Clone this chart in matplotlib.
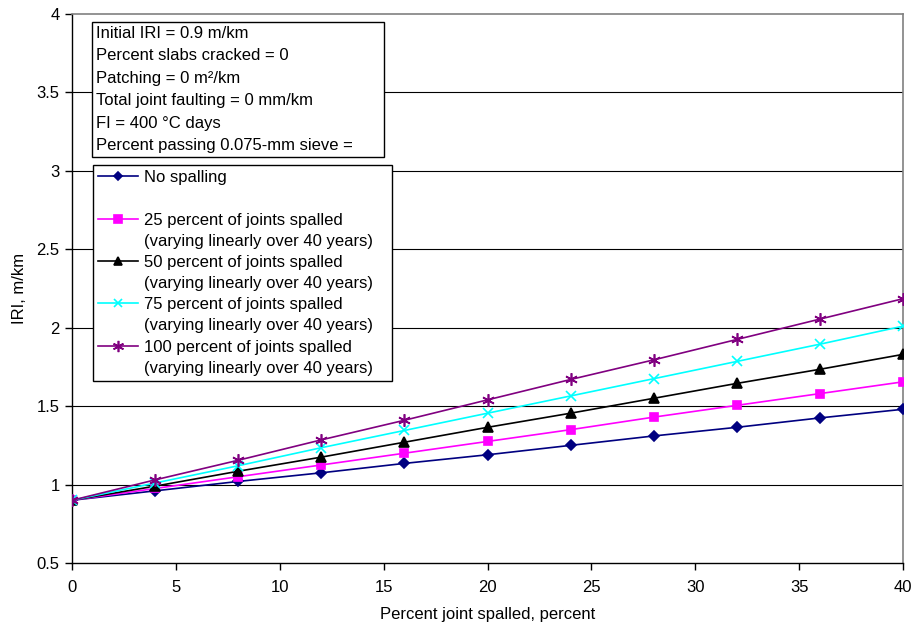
import matplotlib
matplotlib.use("Agg")
import matplotlib.pyplot as plt
from matplotlib.lines import Line2D

plt.rcParams["font.family"] = ["Liberation Sans", "DejaVu Sans"]

# Percent of joints spalled (x) and predicted IRI for each spalling scenario
spalled = [0, 4, 8, 12, 16, 20, 24, 28, 32, 36, 40]
iri_none = [0.90, 0.96, 1.02, 1.075, 1.135, 1.19, 1.25, 1.31, 1.365, 1.425, 1.48]
iri_25 = [0.90, 0.975, 1.05, 1.125, 1.20, 1.275, 1.35, 1.43, 1.505, 1.58, 1.655]
iri_50 = [0.90, 0.99, 1.085, 1.175, 1.27, 1.365, 1.455, 1.55, 1.645, 1.735, 1.83]
iri_75 = [0.90, 1.01, 1.12, 1.235, 1.345, 1.455, 1.565, 1.675, 1.785, 1.895, 2.01]
iri_100 = [0.90, 1.03, 1.155, 1.285, 1.41, 1.54, 1.67, 1.795, 1.925, 2.055, 2.185]

x_ticks = [0, 5, 10, 15, 20, 25, 30, 35, 40]
y_ticks = [0.5, 1, 1.5, 2, 2.5, 3, 3.5, 4]
y_tick_labels = ["0.5", "1", "1.5", "2", "2.5", "3", "3.5", "4"]

FS = 12

fig = plt.figure(figsize=(9.14, 6.28), dpi=100)
ax = fig.add_axes([0.0788, 0.1035, 0.9092, 0.8742])

for y in y_ticks[1:-1]:
    ax.axhline(y, color="black", lw=0.8, zorder=1)

series = [
    (iri_none, "#000080", "D", 5, "No spalling"),
    (iri_25, "#FF00FF", "s", 6, "25 percent of joints spalled"),
    (iri_50, "black", "^", 6.5, "50 percent of joints spalled"),
    (iri_75, "#00FFFF", "x", 7, "75 percent of joints spalled"),
    (iri_100, "#800080", (6, 2, 0), 9, "100 percent of joints spalled"),
]

handles, labels = [], []
blank = Line2D([], [], color="none")
for i, (vals, color, marker, ms, lab) in enumerate(series):
    ax.plot(spalled, vals, color=color, marker=marker, markersize=ms,
            lw=1.2, markeredgewidth=1.2, zorder=3)
    h = Line2D([], [], color=color, marker=marker, markersize=ms * 0.9,
               lw=1.2, markeredgewidth=1.2)
    handles.append(h)
    labels.append(lab)
    handles.append(blank)
    labels.append(" " if i == 0 else "(varying linearly over 40 years)   ")

ax.set_xlim(0, 40)
ax.set_ylim(0.5, 4)
ax.set_xticks(x_ticks)
ax.set_yticks(y_ticks)
ax.set_yticklabels(y_tick_labels)
ax.tick_params(direction="out", length=5, width=1, labelsize=FS, colors="black")
ax.tick_params(axis="x", pad=7)
ax.tick_params(axis="y", pad=4)

for side in ("top", "right"):
    ax.spines[side].set_color("#808080")
    ax.spines[side].set_linewidth(1.2)
for side in ("left", "bottom"):
    ax.spines[side].set_color("black")
    ax.spines[side].set_linewidth(1)

ax.set_xlabel("Percent joint spalled, percent", fontsize=FS, labelpad=9)
ax.set_ylabel("IRI, m/km", fontsize=FS, labelpad=7)

info = ("Initial IRI = 0.9 m/km\n"
        "Percent slabs cracked = 0\n"
        "Patching = 0 m\u00b2/km\n"
        "Total joint faulting = 0 mm/km\n"
        "FI = 400 \u00b0C days\n"
        "Percent passing 0.075-mm sieve =      ")
ax.text(0.0285, 0.979, info, transform=ax.transAxes, fontsize=FS,
        va="top", ha="left", linespacing=1.63, zorder=5,
        bbox=dict(boxstyle="square,pad=0.2", facecolor="white",
                  edgecolor="black", lw=1))

leg = ax.legend(handles, labels, loc="upper left",
                bbox_to_anchor=(0.0255, 0.7245), fontsize=FS,
                frameon=True, fancybox=False, framealpha=1,
                edgecolor="black", handlelength=2.4, handletextpad=0.35,
                labelspacing=0.37, borderpad=0.3, borderaxespad=0)
leg.get_frame().set_linewidth(1)
leg.set_zorder(5)

fig.savefig("out.png", dpi=100, facecolor="white")
